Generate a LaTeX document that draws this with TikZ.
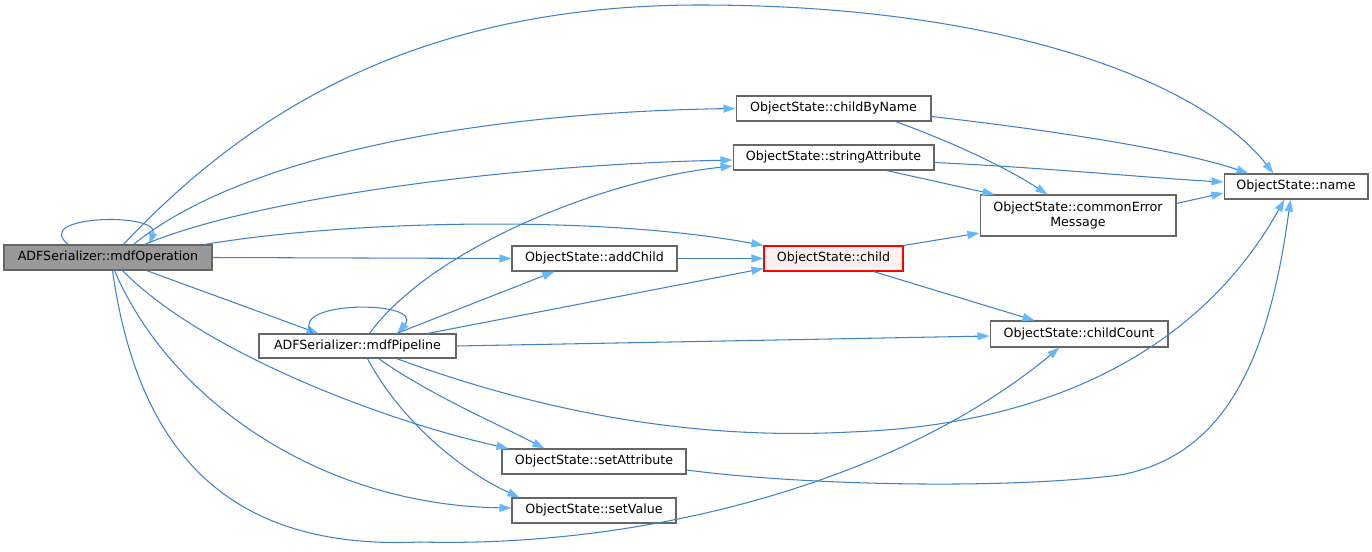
\documentclass[tikz,border=0pt]{standalone}
\usepackage{fontspec}
\setmainfont{DejaVu Sans}
\usepackage{xcolor}
\usepackage{tikz}
\usetikzlibrary{arrows.meta}

\definecolor{edgeline}{HTML}{3F82C8}
\definecolor{edgehead}{HTML}{63B8FF}
\definecolor{nodeborder}{HTML}{666666}

\begin{document}
\begin{tikzpicture}[
  x=0.02cm, y=-0.02cm,
  fn/.style={draw=nodeborder, line width=0.6pt, fill=white, align=center, inner sep=0pt, minimum height=0.5cm, font=\fontsize{7.2}{8.4}\selectfont},
  root/.style={fn, fill=black!40},
  hilite/.style={fn, draw=red, fill=red!6},
  arr/.style={draw=edgeline, line width=0.6pt, -{Triangle[length=2.4mm, width=1.6mm, color=edgehead]}}
]
\useasboundingbox (0,0) rectangle (1372,551);

\node[root, minimum width=4.16cm] (op) at (108,257.5) {ADFSerializer::mdfOperation};
\node[fn, minimum width=3.94cm, minimum height=0.48cm] (pipe) at (357.5,346) {ADFSerializer::mdfPipeline};
\node[fn, minimum width=3.9cm] (cbn) at (833.5,108.5) {ObjectState::childByName};
\node[fn, minimum width=4.02cm] (sa) at (833.5,157.5) {ObjectState::stringAttribute};
\node[fn, minimum width=2.88cm] (nm) at (1296,186.5) {ObjectState::name};
\node[fn, minimum width=3.92cm, minimum height=0.82cm] (cem) at (1078,215.5) {ObjectState::commonError\\Message};
\node[fn, minimum width=3.3cm] (ac) at (594.5,258.5) {ObjectState::addChild};
\node[hilite, minimum width=2.78cm] (ch) at (833.5,258.5) {ObjectState::child};
\node[fn, minimum width=3.56cm, minimum height=0.52cm] (cc) at (1079,334) {ObjectState::childCount};
\node[fn, minimum width=3.68cm] (sat) at (594,461.5) {ObjectState::setAttribute};
\node[fn, minimum width=3.28cm] (sv) at (594,510.5) {ObjectState::setValue};

% calls made by mdfOperation
\draw[arr] ([xshift=1.3cm]op.north west) .. controls (30,215) and (160,212) .. ([xshift=2.92cm]op.north west);
\draw[arr] ([xshift=2.4cm]op.north west) .. controls (250,110) and (420,5) .. (700,5)
  .. controls (1000,5) and (1200,80) .. ([xshift=1cm]nm.north west);
\draw[arr] ([xshift=2.6cm]op.north west) .. controls (250,150) and (500,112) .. (cbn.west);
\draw[arr] ([xshift=2.82cm]op.north west) .. controls (250,200) and (500,165) .. ([yshift=-0.05cm]sa.west);
\draw[arr] ([xshift=4.02cm]op.north west) .. controls (350,220) and (600,215) .. (ch.north west);
\draw[arr] (op.east) -- (ac.west);
\draw[arr] ([xshift=2.86cm]op.south west) -- ([xshift=1.2cm]pipe.north west);
\draw[arr] ([xshift=2.38cm]op.south west) .. controls (200,350) and (380,420) .. ([xshift=0.14cm]sat.north west);
\draw[arr] ([xshift=2.22cm]op.south west) .. controls (170,400) and (320,505) .. ([yshift=0.05cm]sv.west);
\draw[arr] ([xshift=2.18cm]op.south west) .. controls (140,465) and (240,550) .. (420,542)
  .. controls (650,548) and (900,480) .. ([xshift=1.4cm]cc.south west);

% calls made by mdfPipeline
\draw[arr] ([xshift=1.08cm]pipe.north west) .. controls (285,300) and (425,300) .. ([xshift=2.78cm]pipe.north west);
\draw[arr] ([xshift=2.22cm]pipe.north west) .. controls (430,250) and (600,180) .. ([yshift=-0.17cm]sa.west);
\draw[arr] ([xshift=2.76cm]pipe.north west) -- ([xshift=0.86cm]ac.south west);
\draw[arr] ([xshift=3.38cm]pipe.north west) -- ([yshift=0.06cm]ch.south west);
\draw[arr] (pipe.east) -- ([yshift=-0.04cm]cc.west);
\draw[arr] ([xshift=2.76cm]pipe.south west) .. controls (550,415) and (700,440) .. (850,432)
  .. controls (1050,425) and (1200,350) .. ([xshift=1.22cm]nm.south west);
\draw[arr] ([xshift=2.4cm]pipe.south west) .. controls (430,395) and (500,425) .. ([xshift=0.86cm]sat.north west);
\draw[arr] ([xshift=2.18cm]pipe.south west) .. controls (400,420) and (460,470) .. ([xshift=0.16cm]sv.north west);

% the rest
\draw[arr] ([yshift=-0.16cm]cbn.east) .. controls (1050,130) and (1180,150) .. ([xshift=0.5cm]nm.north west);
\draw[arr] ([xshift=3.2cm]cbn.south west) .. controls (960,145) and (1010,170) .. ([xshift=1.36cm]cem.north west);
\draw[arr] ([yshift=-0.1cm]sa.east) .. controls (1050,168) and (1150,178) .. ([yshift=0.09cm]nm.west);
\draw[arr] ([xshift=3.08cm]sa.south west) -- ([xshift=0.3cm]cem.north west);
\draw[arr] ([yshift=0.24cm]cem.east) -- ([yshift=-0.13cm]nm.west);
\draw[arr] (ch.north east) -- ([yshift=0.07cm]cem.south west);
\draw[arr] ([xshift=2.2cm]ch.south west) -- ([xshift=0.9cm]cc.north west);
\draw[arr] (ac.east) -- (ch.west);
\draw[arr] ([yshift=-0.17cm]sat.east) .. controls (800,485) and (1000,490) .. (1120,475)
  .. controls (1230,455) and (1270,350) .. ([xshift=1.34cm]nm.south west);
\end{tikzpicture}
\end{document}
